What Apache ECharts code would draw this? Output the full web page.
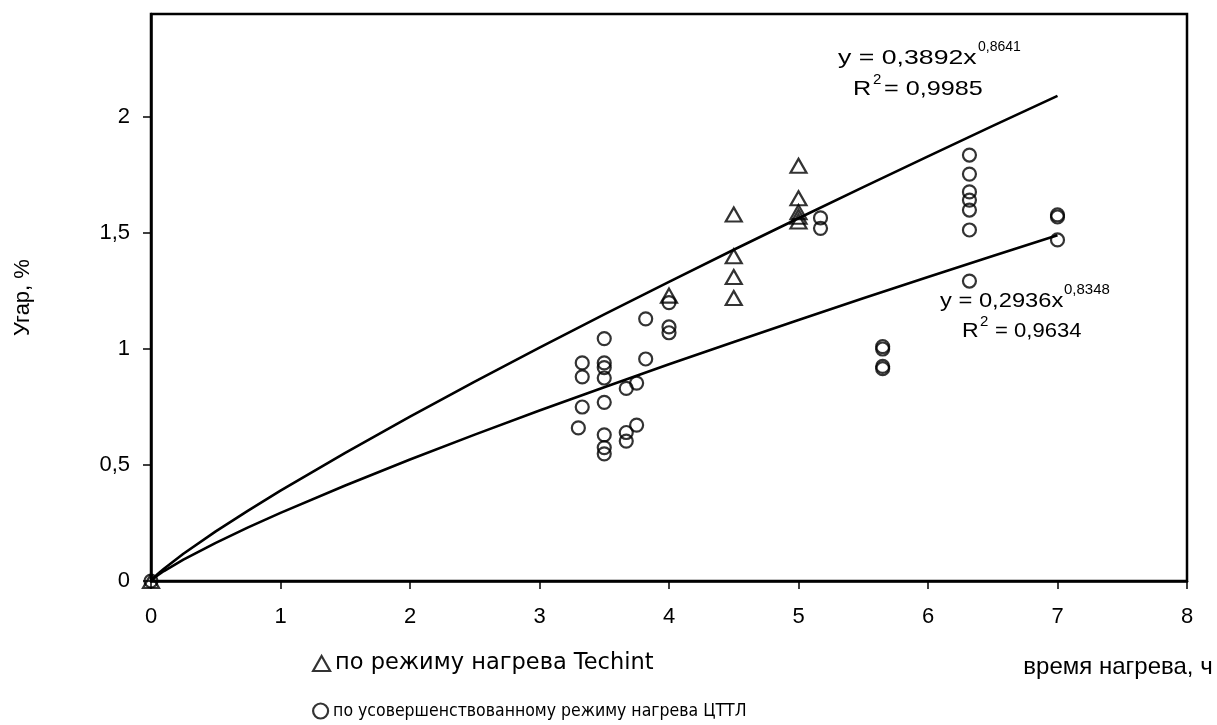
<!DOCTYPE html>
<html><head><meta charset="utf-8">
<script src="https://cdn.jsdelivr.net/npm/echarts@6/dist/echarts.min.js"></script>
<style>html,body{margin:0;padding:0;background:#fff}#c{width:1217px;height:725px}</style>
</head><body><div id="c"></div>
<script>
// ---- data ----
const xTicks = [0, 1, 2, 3, 4, 5, 6, 7, 8];
const yTicks = [0, 0.5, 1, 1.5, 2];
const seriesNames = ['по режиму нагрева Techint', 'по усовершенствованному режиму нагрева ЦТТЛ'];

const techintX = [0, 4.0, 4.5, 4.5, 4.5, 4.5, 5.0, 5.0, 5.0, 5.0, 5.0];
const techintY = [0, 1.23, 1.58, 1.40, 1.31, 1.22, 1.79, 1.65, 1.59, 1.57, 1.55];

const cttlX = [0,
  3.30, 3.33, 3.33, 3.33,
  3.50, 3.50, 3.50, 3.50, 3.50, 3.50, 3.50, 3.50,
  3.67, 3.67, 3.67, 3.75, 3.75, 3.82, 3.82,
  4.00, 4.00, 4.00,
  5.17, 5.17,
  5.65, 5.65, 5.65, 5.65,
  6.32, 6.32, 6.32, 6.32, 6.32, 6.32, 6.32,
  7.00, 7.00, 7.00];
const cttlY = [0,
  0.66, 0.94, 0.88, 0.75,
  1.045, 0.94, 0.92, 0.875, 0.77, 0.63, 0.575, 0.548,
  0.83, 0.64, 0.603, 0.853, 0.672, 1.13, 0.957,
  1.20, 1.095, 1.07,
  1.565, 1.52,
  1.01, 1.00, 0.925, 0.915,
  1.836, 1.754, 1.677, 1.642, 1.599, 1.513, 1.293,
  1.578, 1.569, 1.47];

// trend lines
const trendX = [0, 0.02, 0.05, 0.1, 0.25, 0.5, 0.75, 1, 1.5, 2, 2.5, 3, 3.5, 4, 4.5, 5, 5.5, 6, 6.5, 7];
const techintTrendY = [0, 0.0132, 0.0292, 0.0532, 0.1175, 0.2138, 0.3035, 0.3892, 0.5525, 0.7084, 0.8591, 1.0057, 1.1490, 1.2895, 1.4277, 1.5637, 1.6980, 1.8306, 1.9616, 2.0913];
const cttlTrendY = [0, 0.0112, 0.0241, 0.0430, 0.0923, 0.1646, 0.2309, 0.2936, 0.4119, 0.5236, 0.6309, 0.7346, 0.8355, 0.9340, 1.0305, 1.1253, 1.2185, 1.3103, 1.4009, 1.4902];

// ---- chart ----
const FONT = 'Liberation Sans, Arial, sans-serif';
const zip = (a, b) => a.map((v, i) => [v, b[i]]);
const markStyle = { color: 'rgba(0,0,0,0)', borderColor: '#000', borderWidth: 2.2 };

const chart = echarts.init(document.getElementById('c'), null, { renderer: 'canvas' });

function txt(x, y, text, size, sx) {
  return { type: 'text', x: x, y: y, scaleX: sx || 1, silent: true,
    style: { x: 0, y: 0, text: text, fontSize: size, fontFamily: FONT, fill: '#000',
             textAlign: 'left', textVerticalAlign: 'middle' } };
}

chart.setOption({
  animation: false,
  backgroundColor: '#fff',
  grid: { left: 151, right: 30, top: 14, bottom: 144, show: true,
          borderColor: '#000', borderWidth: 2.5, backgroundColor: 'transparent' },
  xAxis: {
    type: 'value', min: xTicks[0], max: xTicks[xTicks.length - 1], interval: 1,
    name: 'время нагрева, ч', nameLocation: 'end', nameGap: -69,
    nameTextStyle: { fontSize: 24, fontFamily: FONT, color: '#000', align: 'center',
                     verticalAlign: 'top', padding: [74, 0, 0, 0] },
    axisLine: { lineStyle: { color: '#000', width: 2.5 } },
    axisTick: { show: true, inside: false, length: 8, lineStyle: { color: '#000', width: 1.5 } },
    axisLabel: { margin: 25, fontSize: 22, fontFamily: FONT, color: '#000' },
    splitLine: { show: false }
  },
  yAxis: {
    type: 'value', min: 0, max: 2.444, interval: 0.5,
    name: 'Угар, %', nameLocation: 'middle', nameGap: 117, nameRotate: 90,
    nameTextStyle: { fontSize: 22, fontFamily: FONT, color: '#000' },
    axisLine: { show: true, lineStyle: { color: '#000', width: 2.5 } },
    axisTick: { show: true, inside: false, length: 8, customValues: yTicks,
                lineStyle: { color: '#000', width: 1.5 } },
    axisLabel: { margin: 21, fontSize: 22, fontFamily: FONT, color: '#000', customValues: yTicks,
                 formatter: v => String(v).replace('.', ',') },
    splitLine: { show: false }
  },
  legend: [
    { data: [{ name: seriesNames[0], icon: 'triangle' }], left: 312, top: 652, padding: 0,
      itemWidth: 17, itemHeight: 15, itemStyle: markStyle,
      textStyle: { fontSize: 22.5, fontFamily: 'DejaVu Sans, Liberation Sans, sans-serif', color: '#000' },
      selectedMode: false },
    { data: [{ name: seriesNames[1], icon: 'circle' }], left: 312, top: 702, padding: 0,
      itemWidth: 15, itemHeight: 15, itemStyle: markStyle,
      textStyle: { fontSize: 17.5, fontFamily: 'Liberation Sans Narrow, DejaVu Sans Condensed, Liberation Sans, sans-serif', color: '#000' },
      selectedMode: false }
  ],
  series: [
    { type: 'line', name: 'trend1', data: zip(trendX, techintTrendY), showSymbol: false, symbol: 'none',
      smooth: false, silent: true, z: 2,
      lineStyle: { color: '#000', width: 2.6 } },
    { type: 'line', name: 'trend2', data: zip(trendX, cttlTrendY), showSymbol: false, symbol: 'none',
      smooth: false, silent: true, z: 2,
      lineStyle: { color: '#000', width: 2.6 } },
    { type: 'scatter', name: seriesNames[0], data: zip(techintX, techintY), symbol: 'triangle',
      symbolSize: [16, 14], itemStyle: markStyle, z: 3 },
    { type: 'scatter', name: seriesNames[1], data: zip(cttlX, cttlY), symbol: 'circle',
      symbolSize: 13, itemStyle: markStyle, z: 3 }
  ],
  graphic: [
    txt(838, 58, 'y = 0,3892x', 21, 1.27),
    txt(978, 47, '0,8641', 14),
    txt(853, 89, 'R', 21, 1.2),
    txt(873, 80, '2', 15),
    txt(884, 89, '= 0,9985', 21, 1.2),
    txt(940, 301, 'y = 0,2936x', 21, 1.13),
    txt(1064, 290, '0,8348', 15),
    txt(962, 331, 'R', 21, 1.1),
    txt(980, 322, '2', 15),
    txt(995, 331, '= 0,9634', 21, 1.05)
  ]
});
</script>
</body></html>
